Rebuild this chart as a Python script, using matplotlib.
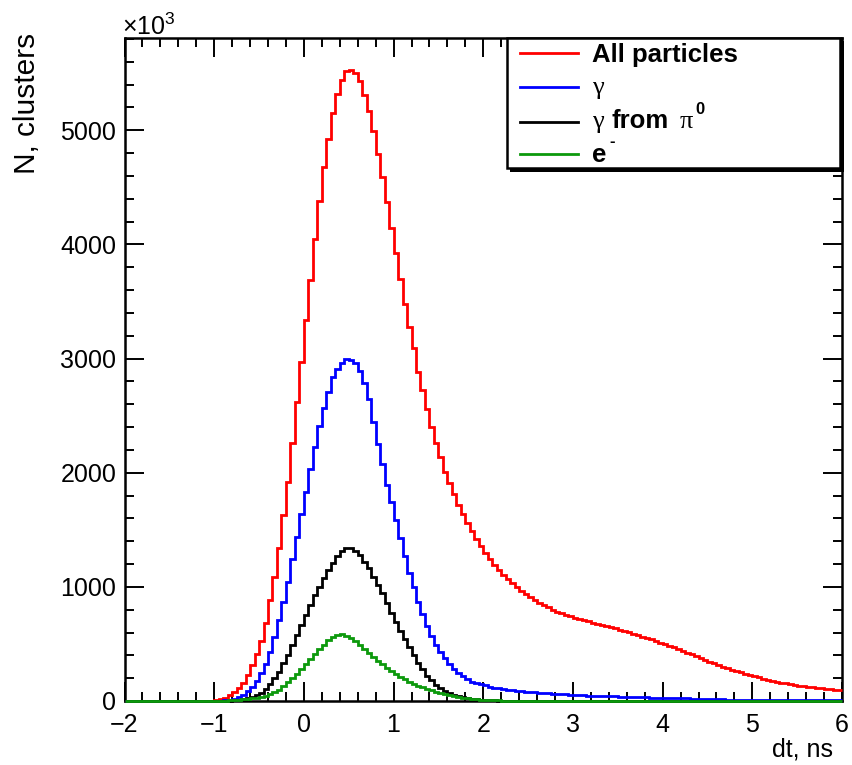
import matplotlib
matplotlib.use('Agg')
import matplotlib.pyplot as plt
import numpy as np
from matplotlib.lines import Line2D
from matplotlib.patches import Rectangle
from matplotlib.ticker import MultipleLocator

plt.rcParams['font.family'] = ['Liberation Sans', 'DejaVu Sans']
plt.rcParams['mathtext.fontset'] = 'custom'
plt.rcParams['mathtext.rm'] = 'Liberation Sans'
plt.rcParams['mathtext.bf'] = 'Liberation Sans:bold'

# binning: 160 bins of 0.05 ns between -2 and 6 ns
t_min, t_max, n_bins = -2.0, 6.0, 160
edges = np.linspace(t_min, t_max, n_bins + 1)

# N clusters per bin, in units of 10^3
all_particles = [0] * 17 + [
    1, 2, 4,
    8, 16, 30, 52, 80, 118, 162, 228, 315, 410,
    525, 685, 884, 1090, 1340, 1630, 1920, 2260, 2620, 2970,
    3342, 3692, 4052, 4381, 4679, 4927, 5155, 5321, 5444, 5519,
    5532, 5502, 5432, 5306, 5169, 4994, 4796, 4591, 4372, 4145,
    3926, 3701, 3476, 3275, 3090, 2884, 2723, 2560, 2400, 2256,
    2134, 2010, 1910, 1810, 1720, 1635, 1558, 1488, 1422, 1360,
    1300, 1245, 1195, 1150, 1108, 1068, 1032, 998, 966, 936,
    910, 885, 862, 840, 820, 801, 784, 768, 754, 741,
    729, 718, 707, 697, 686, 676, 666, 656, 646, 636,
    625, 613, 601, 589, 577, 565, 552, 540, 527, 512,
    498, 484, 470, 455, 440, 424, 408, 392, 377, 362,
    346, 330, 316, 302, 288, 275, 262, 250, 238, 227,
    216, 206, 196, 187, 178, 170, 162, 155, 148, 141,
    135, 129, 124, 119, 114, 110, 106, 103, 100, 97,
]

gamma = [0] * 19 + [
    1,
    2, 4, 8, 13, 20, 35, 55, 85, 125, 178,
    243, 322, 432, 563, 709, 866, 1045, 1242, 1440, 1636,
    1833, 2033, 2227, 2405, 2567, 2709, 2840, 2908, 2963, 2992,
    2990, 2960, 2890, 2790, 2645, 2440, 2250, 2075, 1895, 1745,
    1585, 1424, 1270, 1125, 995, 865, 760, 660, 570, 495,
    430, 375, 325, 283, 247, 215, 190, 170, 158, 147,
    137, 127, 118, 110, 104, 99, 95, 90, 86, 82,
    78, 75, 72, 69, 66, 63, 61, 59, 57, 55,
    53, 51, 49, 48, 46, 45, 44, 42, 41, 40,
    38, 37, 36, 34, 33, 32, 31, 30, 29, 28,
    27, 26, 25, 24, 23, 22, 21, 20, 19, 18,
    17, 16, 15, 14, 13, 12, 12, 11, 11, 10,
    10, 9, 9, 9, 8, 8, 8, 7, 7, 7,
    7, 6, 6, 6, 6, 6, 5, 5, 5, 5,
]

gamma_pi0 = [0] * 23 + [
    2, 5, 10, 17, 25, 36, 52,
    72, 106, 150, 198, 257, 330, 407, 490, 578, 665,
    753, 840, 925, 1001, 1078, 1147, 1212, 1267, 1318, 1337,
    1337, 1318, 1279, 1220, 1162, 1089, 1016, 943, 855, 773,
    690, 615, 545, 472, 400, 337, 278, 223, 181, 143,
    114, 90, 70, 55, 44, 35, 26, 20, 15, 12,
    9, 7, 5, 4, 3, 2, 2, 1, 1, 1,
] + [0] * 70

electrons = [0] * 22 + [
    3, 5, 8, 11, 14, 18, 22, 26,
    32, 42, 57, 77, 100, 130, 165, 201, 239, 281,
    325, 369, 414, 456, 495, 531, 563, 582, 587, 572,
    552, 525, 492, 458, 420, 385, 352, 320, 290, 262,
    236, 212, 190, 170, 152, 135, 119, 105, 92, 80,
    68, 58, 49, 41, 34, 28, 23, 19, 15, 12,
    10, 8, 6, 5, 4, 3, 3, 2, 2, 2,
    2, 2, 2, 2, 2, 2, 1, 1, 1, 1,
    1, 1, 1, 1, 1, 1, 1, 1, 1, 1,
    1,
] + [0] * 49

series = [
    (all_particles, '#ff0000'),
    (gamma, '#0000ff'),
    (gamma_pi0, '#000000'),
    (electrons, '#0c990c'),
]

W, H = 852, 765


def fx(px):
    return px / W


def fy(py):
    return 1 - py / H


fig = plt.figure(figsize=(W / 100, H / 100), dpi=100)
ax = fig.add_axes([fx(124.5), fy(701), fx(842) - fx(124.5), fy(38) - fy(701)])

for vals, col in series:
    ax.stairs(vals, edges, color=col, lw=2.0, baseline=None, zorder=3, clip_on=False)

ax.set_xlim(t_min, t_max)
ax.set_ylim(0, 1.05 * max(all_particles))

ax.xaxis.set_major_locator(MultipleLocator(1))
ax.xaxis.set_minor_locator(MultipleLocator(0.2))
ax.yaxis.set_major_locator(MultipleLocator(1000))
ax.yaxis.set_minor_locator(MultipleLocator(200))
ax.tick_params(which='both', direction='in', top=True, right=True, width=1.4)
ax.tick_params(which='major', length=14, labelsize=18, pad=6)
ax.tick_params(axis='x', which='major', pad=9)
ax.tick_params(which='minor', length=6.5)
for s in ax.spines.values():
    s.set_linewidth(1.8)

# axis titles, ROOT style
fig.text(fx(27), fy(33), 'N, clusters', rotation=90, ha='center', va='top', fontsize=21.5)
fig.text(fx(833), fy(757), 'dt, ns', ha='right', va='baseline', fontsize=18)
fig.text(fx(122), fy(35), '\u00d710$^{3}$', ha='left', va='baseline', fontsize=18)

# legend box with shadow
fig.add_artist(Rectangle((fx(510), fy(172)), fx(844) - fx(510), fy(41) - fy(172),
                         transform=fig.transFigure, facecolor='black', edgecolor='none', zorder=5))
fig.add_artist(Rectangle((fx(507), fy(168)), fx(840) - fx(507), fy(38) - fy(168),
                         transform=fig.transFigure, facecolor='white', edgecolor='black',
                         lw=1.8, zorder=6))

rows = [53, 87, 122, 154]
for (vals, col), row in zip(series, rows):
    fig.add_artist(Line2D([fx(520), fx(578)], [fy(row), fy(row)], transform=fig.transFigure,
                          color=col, lw=2.0, zorder=7))

txt = dict(zorder=8, va='baseline', ha='left')
fig.text(fx(592), fy(62), 'All particles', fontsize=18.5, fontweight='bold', **txt)
fig.text(fx(592), fy(94), '\u03b3', fontsize=19, family='Liberation Serif', **txt)
fig.text(fx(592), fy(128), '\u03b3', fontsize=19, family='Liberation Serif', **txt)
fig.text(fx(612), fy(128), 'from', fontsize=18.5, fontweight='bold', **txt)
fig.text(fx(680), fy(128), '\u03c0', fontsize=19, family='Liberation Serif', **txt)
fig.text(fx(695), fy(114), '0', fontsize=12, fontweight='bold', **txt)
fig.text(fx(592), fy(162), 'e', fontsize=18.5, fontweight='bold', **txt)
fig.text(fx(609), fy(146), '-', fontsize=12, fontweight='bold', **txt)

fig.savefig('out.png', dpi=100)
